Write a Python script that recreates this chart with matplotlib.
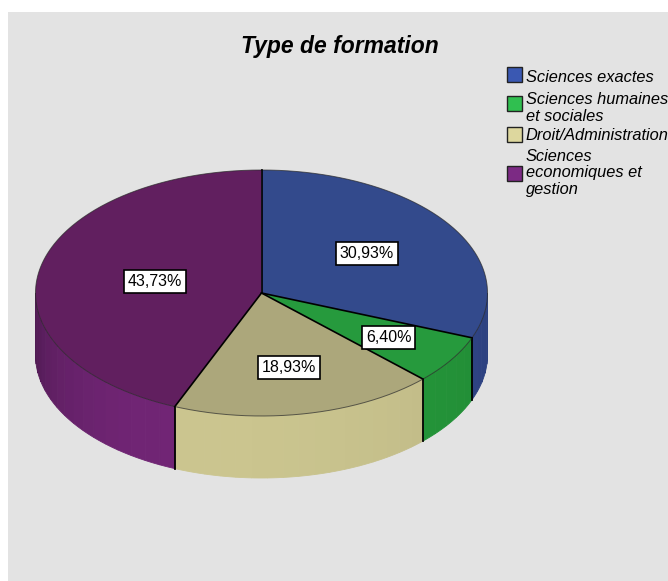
import numpy as np
import matplotlib
matplotlib.use("Agg")
import matplotlib.pyplot as plt
from matplotlib.patches import Polygon, Rectangle
from matplotlib.colors import to_rgb

# Répartition des étudiants par type de formation (%)
categories = ["Sciences exactes", "Sciences humaines\net sociales",
              "Droit/Administration", "Sciences\neconomiques et\ngestion"]
values = [30.93, 6.40, 18.93, 43.73]
labels = ["30,93%", "6,40%", "18,93%", "43,73%"]

top_colors = ["#334a8c", "#269a3d", "#aca77b", "#611f5f"]
side_colors = ["#32498f", "#259a3b", "#cbc58f", "#712575"]
legend_colors = ["#3a58b2", "#30bf50", "#ddd79e", "#7c2a84"]
label_r = [0.565, 0.67, 0.615, 0.48]

# ellipse geometry of the pie, in pixels
cx, cy, rx, ry, depth = 261.5, 293.0, 226.0, 123.0, 62.0

plt.rcParams["font.family"] = ["Liberation Sans", "DejaVu Sans"]

fig = plt.figure(figsize=(6.68, 5.81), dpi=100, facecolor="white")
ax = fig.add_axes([0, 0, 1, 1])
ax.set_xlim(0, 668)
ax.set_ylim(581, 0)
ax.axis("off")
ax.add_patch(Rectangle((8, 12), 668, 581, fc="#e3e3e3", ec="none", zorder=0))


def pt(theta, dz=0.0):
    t = np.radians(theta)
    return cx + rx * np.cos(t), cy - ry * np.sin(t) + dz


def shade(theta):
    if theta < -110:
        return 1 - 0.32 * ((theta + 110) / 70.0) ** 2
    return 1 - 0.12 * ((theta + 110) / 110.0) ** 2


# slice angles, clockwise from 12 o'clock
bounds = 90 - np.concatenate([[0], np.cumsum(values)]) / sum(values) * 360

# side walls, drawn as vertical bands on the front half
for i in range(len(values)):
    a0, a1 = bounds[i], bounds[i + 1]
    hi, lo = min(a0, 0), max(a1, -180)
    if hi <= lo:
        continue
    edges = np.linspace(hi, lo, max(2, int((hi - lo) / 4) + 1))
    base = np.array(to_rgb(side_colors[i]))
    for s, e in zip(edges[:-1], edges[1:]):
        arc = np.linspace(s, e, 6)
        upper = [pt(a) for a in arc]
        lower = [pt(a, depth) for a in arc[::-1]]
        c = np.clip(base * shade((s + e) / 2), 0, 1)
        ax.add_patch(Polygon(upper + lower, closed=True, fc=c, ec=c, lw=0.6, zorder=2))

# vertical seams between slices on the wall
for b in bounds[1:-1]:
    if -180 < b < 0:
        x, y = pt(b)
        ax.plot([x, x], [y, y + depth], color="black", lw=1.3, zorder=3)

# top faces
for i in range(len(values)):
    arc = np.linspace(bounds[i], bounds[i + 1], 200)
    poly = [(cx, cy)] + [pt(a) for a in arc]
    ax.add_patch(Polygon(poly, closed=True, fc=top_colors[i], ec="none", zorder=4))
    outer = np.array([pt(a) for a in arc])
    ax.plot(outer[:, 0], outer[:, 1], color="#2a2a2a", lw=0.7, alpha=0.7, zorder=5)

for b in bounds[:-1]:
    x, y = pt(b)
    ax.plot([cx, x], [cy, y], color="black", lw=1.2, zorder=5)

# percentage labels
for i in range(len(values)):
    mid = (bounds[i] + bounds[i + 1]) / 2
    t = np.radians(mid)
    x = cx + label_r[i] * rx * np.cos(t)
    y = cy - label_r[i] * ry * np.sin(t)
    ax.text(x, y, labels[i], fontsize=11.5, ha="center", va="center", zorder=6,
            bbox=dict(boxstyle="square,pad=0.25", fc="white", ec="black", lw=1.2))

ax.text(340, 46, "Type de formation", fontsize=16.5, fontweight="bold",
        fontstyle="italic", ha="center", va="center")

# legend
sq_y = [75, 104, 135, 174]
txt_y = [77, 108, 136, 173]
for i in range(len(categories)):
    ax.add_patch(Rectangle((507, sq_y[i] - 8), 15, 15, fc=legend_colors[i],
                           ec="#222222", lw=1, zorder=6))
    ax.text(526, txt_y[i], categories[i], fontsize=11.8, fontstyle="italic",
            ha="left", va="center", linespacing=1.1, zorder=6)

fig.savefig("out.png", dpi=100)
